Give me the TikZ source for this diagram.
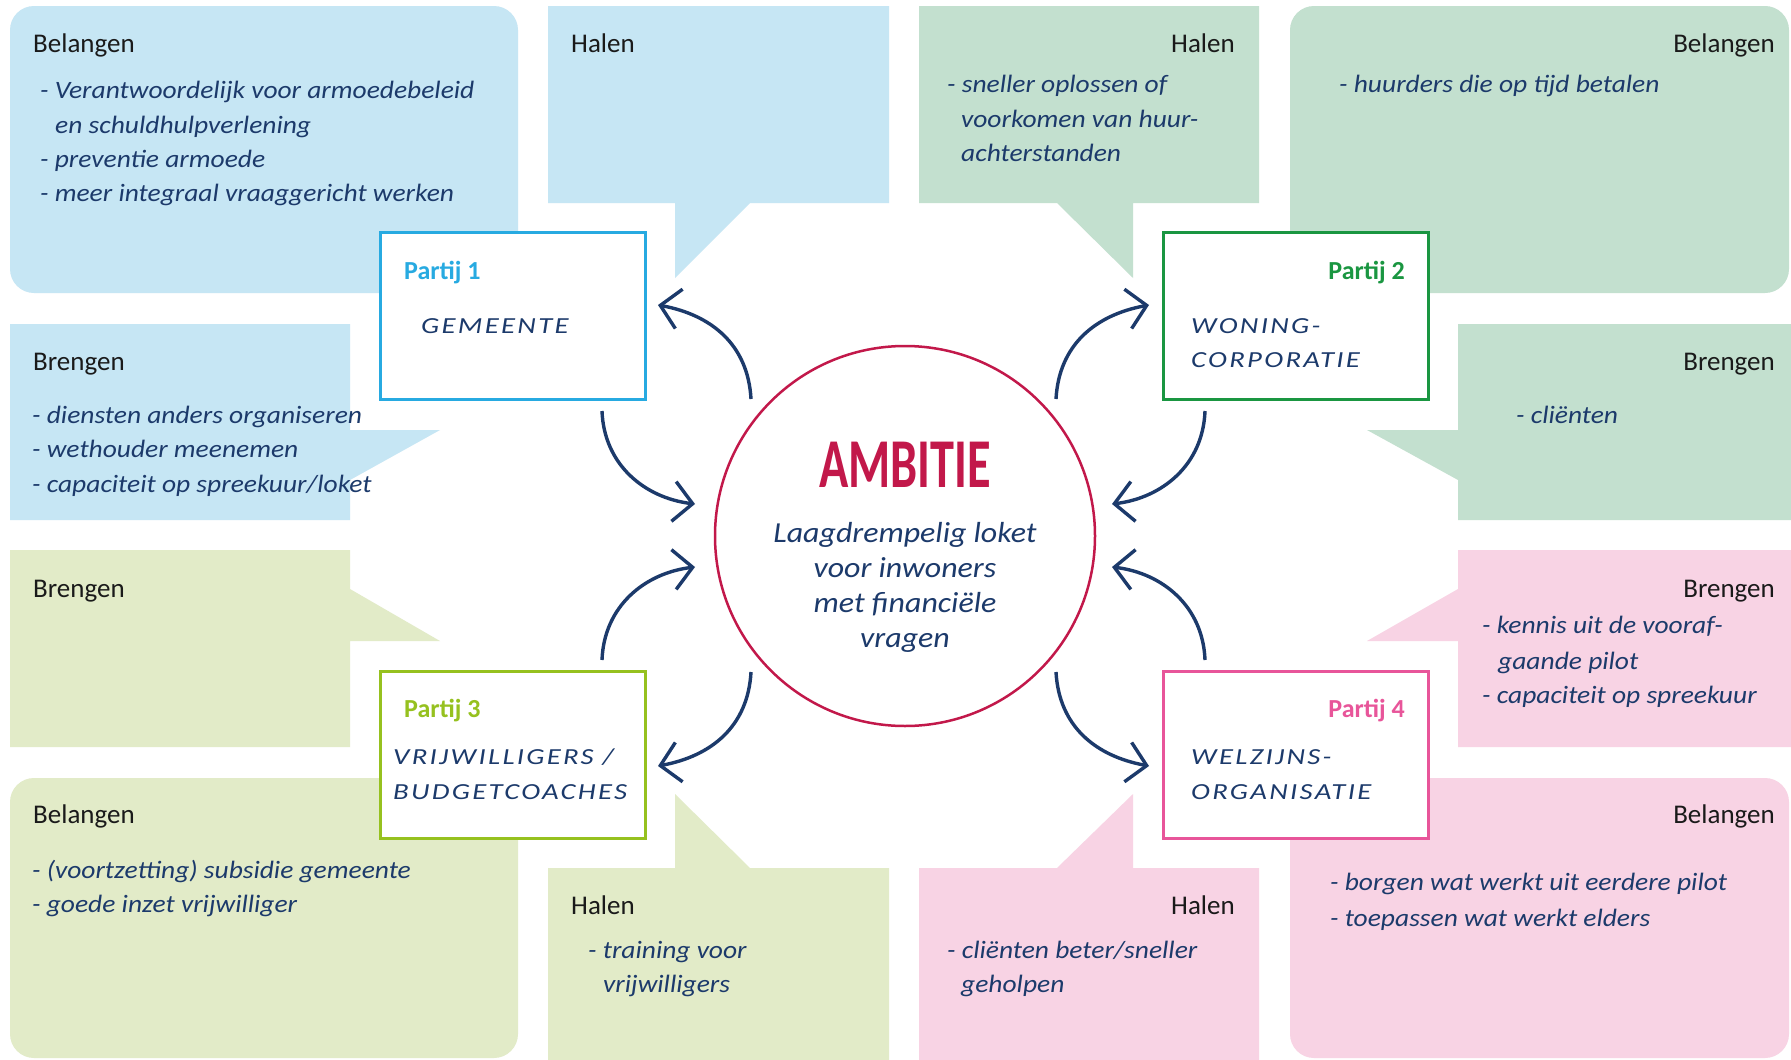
\documentclass[tikz,border=0pt]{standalone}
\usepackage{fontspec}
\usepackage{tikz}
\usepackage{xcolor}
\usetikzlibrary{arrows.meta}
\setmainfont{Carlito}
\newfontfamily\capsfont{Carlito}[FakeStretch=1.25,LetterSpace=10]
\newfontfamily\handfont{Carlito}[FakeStretch=1.1]
\newfontfamily\titlefont{Carlito}[FakeStretch=0.69]
\newcommand\handtext{\handfont\itshape\fontsize{25}{30}\selectfont}

\definecolor{blue1}{HTML}{C6E6F4}
\definecolor{cyan1}{HTML}{27AAE1}
\definecolor{green2}{HTML}{C3E0CF}
\definecolor{green2d}{HTML}{1A9641}
\definecolor{green3}{HTML}{E2EBC8}
\definecolor{green3d}{HTML}{96C11F}
\definecolor{pink4}{HTML}{F8D3E4}
\definecolor{pink4d}{HTML}{E8559A}
\definecolor{ink}{HTML}{1C3A6B}
\definecolor{crim}{HTML}{C2184A}
\definecolor{headc}{HTML}{1A1A1A}

\begin{document}
\begin{tikzpicture}[x=1pt,y=-1pt,
    partij/.style={draw,line width=3pt,fill=white,minimum width=265pt,minimum height=167pt,inner sep=0pt},
    head/.style={anchor=base west,inner sep=0pt,text=headc,font=\fontsize{27}{32}\selectfont},
    ptitle/.style={anchor=base west,inner sep=0pt,font=\bfseries\fontsize{26}{30}\selectfont},
    pname/.style={anchor=base west,inner sep=0pt,text=ink,font=\capsfont\itshape\fontsize{23}{26}\selectfont},
    item/.style={anchor=base west,inner sep=0pt,text=ink,font=\handtext},
    arr/.style={ink,line width=3.4pt,-{Straight Barb[length=19pt,width=40pt]}}]
    \fill[white] (0,0) rectangle (1791,1060);
    \useasboundingbox (0,0) rectangle (1791,1060);
    % bubbles partij 1
    \fill[blue1,rounded corners=24pt] (10,6) rectangle (518,293);
    \fill[blue1] (548,6) -- (889,6) -- (889,203) -- (750,203) -- (675,278) -- (675,203) -- (548,203) -- cycle;
    \fill[blue1] (10,324) -- (350,324) -- (350,430) -- (440,430) -- (350,480) -- (350,520) -- (10,520) -- cycle;
    % bubbles partij 2
    \fill[green2,rounded corners=24pt] (1290,6) rectangle (1789,293);
    \fill[green2] (919,6) -- (1259,6) -- (1259,203) -- (1133,203) -- (1133,278) -- (1057,203) -- (919,203) -- cycle;
    \fill[green2] (1458,324) -- (1791,324) -- (1791,520) -- (1458,520) -- (1458,480) -- (1367,430) -- (1458,430) -- cycle;
    % bubbles partij 3
    \fill[green3] (10,550) -- (350,550) -- (350,589) -- (440,641) -- (350,641) -- (350,747) -- (10,747) -- cycle;
    \fill[green3,rounded corners=24pt] (10,778) rectangle (518,1058);
    \fill[green3] (548,868) -- (675,868) -- (675,794) -- (750,868) -- (889,868) -- (889,1060) -- (548,1060) -- cycle;
    % bubbles partij 4
    \fill[pink4] (1458,550) -- (1791,550) -- (1791,747) -- (1458,747) -- (1458,641) -- (1367,641) -- (1458,589) -- cycle;
    \fill[pink4,rounded corners=24pt] (1290,778) rectangle (1789,1058);
    \fill[pink4] (919,868) -- (1057,868) -- (1133,794) -- (1133,868) -- (1259,868) -- (1259,1060) -- (919,1060) -- cycle;
    % headings
    \node (bel1) [head] at (33,52) {Belangen};
    \node (hal1) [head] at (571,52) {Halen};
    \node (bre1) [head] at (33,370) {Brengen};
    \node (hal2) [head,anchor=base east] at (1235,52) {Halen};
    \node (bel2) [head,anchor=base east] at (1775,52) {Belangen};
    \node (bre2) [head,anchor=base east] at (1775,370) {Brengen};
    \node (bre3) [head] at (33,597) {Brengen};
    \node (bel3) [head] at (33,823) {Belangen};
    \node (hal3) [head] at (571,914) {Halen};
    \node (bre4) [head,anchor=base east] at (1775,597) {Brengen};
    \node (bel4) [head,anchor=base east] at (1775,823) {Belangen};
    \node (hal4) [head,anchor=base east] at (1235,914) {Halen};
    % items
    \node (bel1a) [item] at (40,98) {- Verantwoordelijk voor armoedebeleid};
    \node (bel1b) [item] at (55,133) {en schuldhulpverlening};
    \node (bel1c) [item] at (40,167) {- preventie armoede};
    \node (bel1d) [item] at (40,201) {- meer integraal vraaggericht werken};
    \node (bre1a) [item] at (32,423) {- diensten anders organiseren};
    \node (bre1b) [item] at (32,457) {- wethouder meenemen};
    \node (bre1c) [item] at (32,492) {- capaciteit op spreekuur/loket};
    \node (hal2a) [item] at (947,92) {- sneller oplossen of};
    \node (hal2b) [item] at (961,127) {voorkomen van huur-};
    \node (hal2c) [item] at (961,161) {achterstanden};
    \node (bel2a) [item] at (1339,92) {- huurders die op tijd betalen};
    \node (bre2a) [item] at (1516,423) {- cliënten};
    \node (bel3a) [item] at (32,878) {- (voortzetting) subsidie gemeente};
    \node (bel3b) [item] at (32,912) {- goede inzet vrijwilliger};
    \node (hal3a) [item] at (588,958) {- training voor};
    \node (hal3b) [item] at (603,992) {vrijwilligers};
    \node (bre4a) [item] at (1482,633) {- kennis uit de vooraf-};
    \node (bre4b) [item] at (1498,669) {gaande pilot};
    \node (bre4c) [item] at (1482,703) {- capaciteit op spreekuur};
    \node (bel4a) [item] at (1330,890) {- borgen wat werkt uit eerdere pilot};
    \node (bel4b) [item] at (1330,926) {- toepassen wat werkt elders};
    \node (hal4a) [item] at (947,958) {- cliënten beter/sneller};
    \node (hal4b) [item] at (961,992) {geholpen};
    % partijen
    \node (p1) [partij,draw=cyan1] at (512.5,316) {};
    \node (p2) [partij,draw=green2d] at (1295.5,316) {};
    \node (p3) [partij,draw=green3d] at (512.5,754.5) {};
    \node (p4) [partij,draw=pink4d] at (1295.5,754.5) {};
    \node (n1) [ptitle,text=cyan1] at (404,279) {Partij 1};
    \node (n2) [ptitle,anchor=base east,text=green2d] at (1405,279) {Partij 2};
    \node (n3) [ptitle,text=green3d] at (404,717) {Partij 3};
    \node (n4) [ptitle,anchor=base east,text=pink4d] at (1405,717) {Partij 4};
    \node (m1) [pname] at (421,333) {GEMEENTE};
    \node (m2a) [pname] at (1191,333) {WONING-};
    \node (m2b) [pname] at (1191,367) {CORPORATIE};
    \node (m3a) [pname] at (393,764) {VRIJWILLIGERS /};
    \node (m3b) [pname] at (393,799) {BUDGETCOACHES};
    \node (m4a) [pname] at (1191,764) {WELZIJNS-};
    \node (m4b) [pname] at (1191,799) {ORGANISATIE};
    % ambitie
    \node (amb) [circle,draw=crim,line width=2.5pt,minimum size=380pt,inner sep=0pt] at (905,536) {};
    \node (t0) [anchor=base,inner sep=0pt,text=crim,font=\titlefont\bfseries\fontsize{70}{70}\selectfont] at (905,487) {AMBITIE};
    \foreach \t [count=\i] in {Laagdrempelig loket,voor inwoners,met financiële,vragen}
        \node (t\i) [item,anchor=base,font=\handfont\itshape\fontsize{29}{32}\selectfont] at (905,507+35*\i) {\t};
    % arrows
    \foreach \q/\sx/\sy in {1/-1/-1,2/1/-1,3/-1/1,4/1/1} {
        \begin{scope}[shift={(903.5,535.5)},xscale=\sx,yscale=\sy]
            \coordinate (out\q) at (152.5,136.5);
            \coordinate (to\q) at (245.5,230.5);
            \coordinate (from\q) at (301.5,124.5);
            \coordinate (in\q) at (208.5,31.5);
            \draw [arr] (out\q) .. controls (155.5,190.5) and (191.5,220.5) .. (to\q);
            \draw [arr] (from\q) .. controls (299.5,70.5) and (258.5,37.5) .. (in\q);
        \end{scope}
    }
\end{tikzpicture}
\end{document}
